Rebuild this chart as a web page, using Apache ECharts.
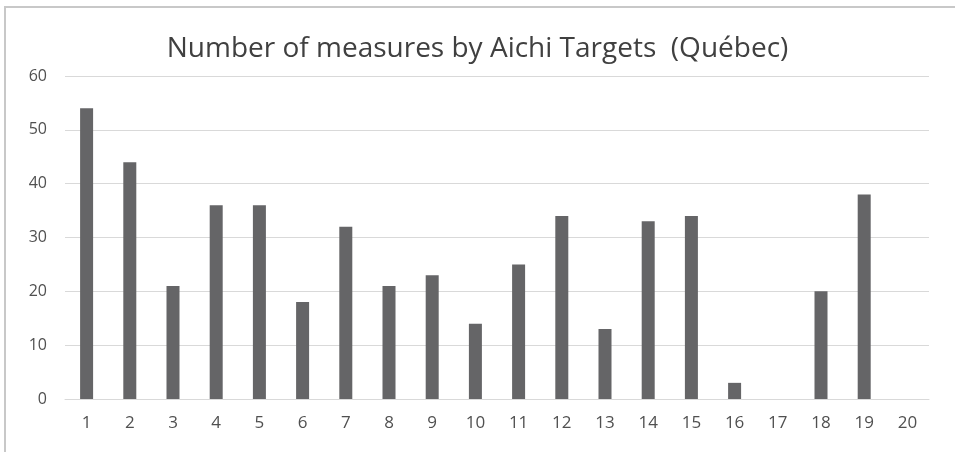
<!DOCTYPE html>
<html>
<head>
<meta charset="utf-8">
<script src="https://cdn.jsdelivr.net/npm/echarts@6/dist/echarts.min.js"></script>
<style>
  html, body { margin: 0; padding: 0; background: #fff; }
  #main { width: 955px; height: 452px; }
</style>
</head>
<body>
<div id="main"></div>
<script>
// Aichi targets 1..20
const targets = ['1','2','3','4','5','6','7','8','9','10','11','12','13','14','15','16','17','18','19','20'];
// number of measures per target
const measures = [54, 44, 21, 36, 36, 18, 32, 21, 23, 14, 25, 34, 13, 33, 34, 3, 0, 20, 38, 0];
const yTicks = { min: 0, max: 60, step: 10 };

const chart = echarts.init(document.getElementById('main'));

const option = {
  backgroundColor: '#fff',
  title: {
    text: 'Number of measures by Aichi Targets  (Québec)',
    left: 'center',
    top: 30,
    textStyle: { fontFamily: 'Open Sans', fontSize: 28, fontWeight: 'normal', color: '#404040' }
  },
  graphic: [{
    type: 'rect',
    shape: { x: 5, y: 7, width: 960, height: 460 },
    style: { fill: 'none', stroke: '#c8c8c8', lineWidth: 2 },
    silent: true
  }],
  grid: { left: 65, right: 26, top: 76, bottom: 53 },
  xAxis: {
    type: 'category',
    data: targets,
    axisLine: { show: true, lineStyle: { color: '#d9d9d9', width: 1 } },
    axisTick: { show: false },
    axisLabel: { color: '#505050', fontFamily: 'Open Sans', fontSize: 17, margin: 16 }
  },
  yAxis: {
    type: 'value',
    min: yTicks.min,
    max: yTicks.max,
    interval: yTicks.step,
    axisLine: { show: false },
    axisTick: { show: false },
    splitLine: { lineStyle: { color: '#d9d9d9', width: 1 } },
    axisLabel: { color: '#505050', fontFamily: 'Open Sans', fontSize: 16, margin: 18, align: 'right' }
  },
  series: [{
    type: 'bar',
    data: measures,
    barWidth: 13,
    itemStyle: { color: '#656567', borderWidth: 0 }
  }]
};

chart.setOption(option);
</script>
</body>
</html>
